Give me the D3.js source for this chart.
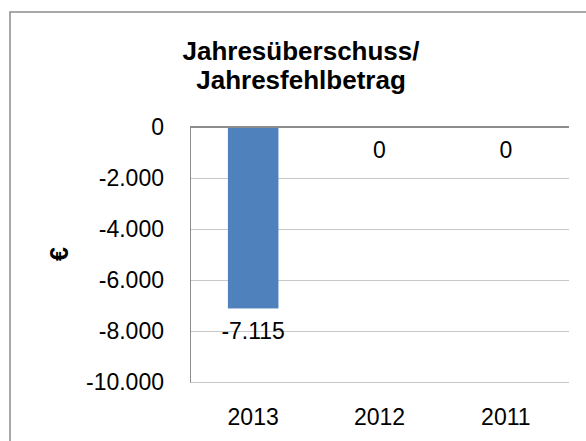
<!DOCTYPE html>
<html>
<head>
<meta charset="utf-8">
<script src="https://cdn.jsdelivr.net/npm/d3@7"></script>
<style>
    html, body { margin: 0; padding: 0; background: white; }
    svg { display: block; }
</style>
</head>
<body>
<script>
(function () {
    "use strict";

    // chart data
    var years = ["2013", "2012", "2011"];
    var values = [-7115, 0, 0];
    var yTicks = [0, -2000, -4000, -6000, -8000, -10000];
    var titleLines = ["Jahresüberschuss/", "Jahresfehlbetrag"];
    var yLabel = "€";

    var width = 586, height = 441;
    var margin = {top: 127, right: 17, bottom: 59, left: 190};
    var plotW = width - margin.left - margin.right;
    var plotH = height - margin.top - margin.bottom;

    // german number format: -7.115 (plain hyphen as minus)
    var de = d3.formatLocale({decimal: ",", thousands: ".", grouping: [3], currency: ["", " €"], minus: "-"});
    var fmt = de.format(",d");

    var svg = d3.select("body").append("svg")
            .attr("width", width)
            .attr("height", height);

    // chart frame, runs off the right and bottom edge
    svg.append("rect")
            .attr("x", 10)
            .attr("y", 12)
            .attr("width", 600)
            .attr("height", 460)
            .attr("fill", "white")
            .attr("stroke", "#8c8c8c")
            .attr("stroke-width", 1.5);

    // title
    svg.append("text")
            .attr("x", 301)
            .attr("y", 60)
            .attr("text-anchor", "middle")
            .style("font-family", "'Liberation Sans', Arial, sans-serif")
            .style("font-weight", "bold")
            .style("font-size", "26px")
            .selectAll("tspan")
            .data(titleLines)
            .enter().append("tspan")
            .attr("x", 301)
            .attr("dy", function (d, i) { return i === 0 ? 0 : 28.5; })
            .text(function (d) { return d; });

    var x = d3.scaleBand()
            .domain(years)
            .range([0, plotW])
            .paddingInner(0.6)
            .paddingOuter(0.3);

    var y = d3.scaleLinear()
            .domain([-10000, 0])
            .range([plotH, 0]);

    var g = svg.append("g")
            .attr("transform", "translate(" + margin.left + "," + margin.top + ")");

    var labelFont = "'Liberation Sans', Arial, sans-serif";

    // gridlines
    g.append("g")
            .selectAll("line")
            .data(yTicks.filter(function (d) { return d !== 0; }))
            .enter().append("line")
            .attr("x1", 0)
            .attr("x2", plotW)
            .attr("y1", function (d) { return Math.round(y(d)) + 0.5; })
            .attr("y2", function (d) { return Math.round(y(d)) + 0.5; })
            .attr("stroke", "#c8c8c8")
            .attr("stroke-width", 1);

    // y axis
    var yAxis = g.append("g")
            .call(d3.axisLeft(y).tickValues(yTicks).tickSize(0).tickPadding(26).tickFormat(fmt));
    yAxis.select(".domain").attr("stroke", "#8c8c8c");
    yAxis.selectAll("text")
            .style("font-family", labelFont)
            .style("font-size", "23px")
            .attr("fill", "#000");

    // bars
    g.append("g")
            .selectAll("rect")
            .data(values)
            .enter().append("rect")
            .attr("x", function (d, i) { return x(years[i]); })
            .attr("width", x.bandwidth())
            .attr("y", function (d) { return y(Math.max(0, d)); })
            .attr("height", function (d) { return Math.abs(y(d) - y(0)); })
            .attr("fill", "#4f81bd");

    // zero line (category axis)
    g.append("line")
            .attr("x1", 0)
            .attr("x2", plotW)
            .attr("y1", y(0))
            .attr("y2", y(0))
            .attr("stroke", "#8c8c8c")
            .attr("stroke-width", 2);

    // data labels
    g.append("g")
            .selectAll("text")
            .data(values)
            .enter().append("text")
            .attr("x", function (d, i) { return x(years[i]) + x.bandwidth() / 2; })
            .attr("y", function (d) { return y(d) + 23; })
            .attr("dy", "0.35em")
            .attr("text-anchor", "middle")
            .style("font-family", labelFont)
            .style("font-size", "23px")
            .text(function (d) { return fmt(d); });

    // category labels
    g.append("g")
            .selectAll("text")
            .data(years)
            .enter().append("text")
            .attr("x", function (d) { return x(d) + x.bandwidth() / 2; })
            .attr("y", plotH + 35)
            .attr("dy", "0.35em")
            .attr("text-anchor", "middle")
            .style("font-family", labelFont)
            .style("font-size", "23px")
            .text(function (d) { return d; });

    // y axis title
    svg.append("text")
            .attr("transform", "translate(59,254) rotate(-90)")
            .attr("text-anchor", "middle")
            .attr("dy", "0.35em")
            .style("font-family", labelFont)
            .style("font-weight", "bold")
            .style("font-size", "25px")
            .text(yLabel);
})();
</script>
</body>
</html>
